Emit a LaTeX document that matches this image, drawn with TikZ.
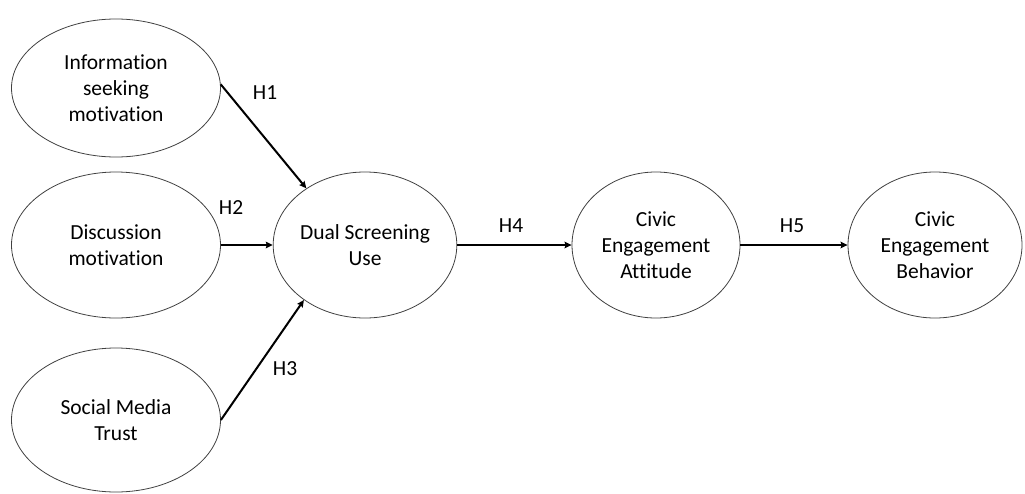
\documentclass[tikz,border=0pt]{standalone}
\usepackage{fontspec}
\setmainfont[Ligatures=NoCommon]{Carlito}
\usetikzlibrary{shapes.geometric,arrows.meta}
\tikzset{
  construct/.style={ellipse, draw=black!75, line width=0.8pt, inner sep=0pt,
    align=center, font=\fontsize{21.5}{26}\selectfont},
  path/.style={line width=2pt, -{Stealth[length=7pt,width=6.5pt,inset=1pt]}},
  hyp/.style={font=\fontsize{21.5}{24}\selectfont, inner sep=0pt}
}
\begin{document}
\begin{tikzpicture}[x=1pt,y=-1pt]
  \useasboundingbox (0,0) rectangle (1025,493);
  % exogenous motivations and trust
  \node[construct, minimum width=209, minimum height=138] (info) at (116,88)
    {Information\\seeking\\motivation};
  \node[construct, minimum width=209, minimum height=146] (disc) at (116,245)
    {Discussion\\motivation};
  \node[construct, minimum width=209, minimum height=144] (trust) at (116,420)
    {Social Media\\Trust};
  % mediators and outcome
  \node[construct, minimum width=174, minimum height=146] (dual) at (365,245)
    {Dual Screening\\Use};
  \node[construct, minimum width=168, minimum height=146] (att) at (656,245)
    {Civic\\Engagement\\Attitude};
  \node[construct, minimum width=174, minimum height=146] (beh) at (935,245)
    {Civic\\Engagement\\Behavior};
  % hypothesised paths
  \draw[path] (info.2) -- (dual.136);
  \draw[path] (disc.east) -- (dual.west);
  \draw[path] (trust.east) -- (dual.222);
  \draw[path] (dual.east) -- (att.west);
  \draw[path] (att.east) -- (beh.west);
  % path labels
  \node[hyp] (h1) at (265,93) {H1};
  \node[hyp] (h2) at (231,208) {H2};
  \node[hyp] (h3) at (285,369) {H3};
  \node[hyp] (h4) at (511,226) {H4};
  \node[hyp] (h5) at (792,226) {H5};
\end{tikzpicture}
\end{document}
